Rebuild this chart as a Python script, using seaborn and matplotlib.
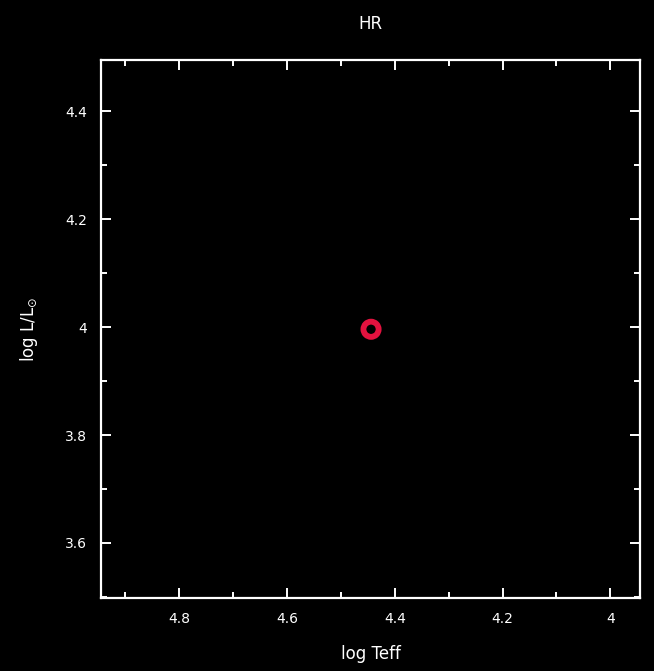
import matplotlib
matplotlib.use("Agg")
import matplotlib.pyplot as plt
import seaborn as sns
import pandas as pd
from matplotlib.ticker import MultipleLocator

# current star position on the HR diagram
log_teff = [4.444]
log_lum = [3.996]

x_ticks = [4.8, 4.6, 4.4, 4.2, 4.0]
x_tick_labels = ["4.8", "4.6", "4.4", "4.2", "4"]
y_ticks = [3.6, 3.8, 4.0, 4.2, 4.4]
y_tick_labels = ["3.6", "3.8", "4", "4.2", "4.4"]

sns.set_style("dark")
plt.rcParams["font.family"] = ["DejaVu Sans"]

df = pd.DataFrame({"log Teff": log_teff, "log L": log_lum})

fig = plt.figure(figsize=(6.54, 6.71), dpi=100, facecolor="black")
ax = fig.add_axes([101 / 654, 1 - 598 / 671, (640 - 101) / 654, (598 - 60) / 671])
ax.set_facecolor("black")

sns.scatterplot(
    data=df, x="log Teff", y="log L", ax=ax,
    marker="o", s=120, facecolor="none", edgecolor="#e3123f", linewidth=4.2,
    zorder=5,
)

ax.set_xlim(4.945, 3.945)
ax.set_ylim(3.498, 4.495)
ax.set_xticks(x_ticks)
ax.set_xticklabels(x_tick_labels)
ax.set_yticks(y_ticks)
ax.set_yticklabels(y_tick_labels)
ax.xaxis.set_minor_locator(MultipleLocator(0.1))
ax.yaxis.set_minor_locator(MultipleLocator(0.1))
ax.grid(False)

for sp in ax.spines.values():
    sp.set_visible(True)
    sp.set_color("white")
    sp.set_linewidth(1.6)

ax.tick_params(which="both", direction="in", colors="white",
               top=True, right=True, bottom=True, left=True,
               labelsize=10, width=1.4)
ax.tick_params(which="major", length=7, pad=10)
ax.tick_params(which="minor", length=4)

ax.set_title("HR", color="white", fontsize=12, pad=22)
ax.set_xlabel("log Teff", color="white", fontsize=12, labelpad=14)
ax.set_ylabel(r"log L/L$_{\odot}$", color="white", fontsize=12, labelpad=18)

fig.savefig("out.png", dpi=100, facecolor="black")
